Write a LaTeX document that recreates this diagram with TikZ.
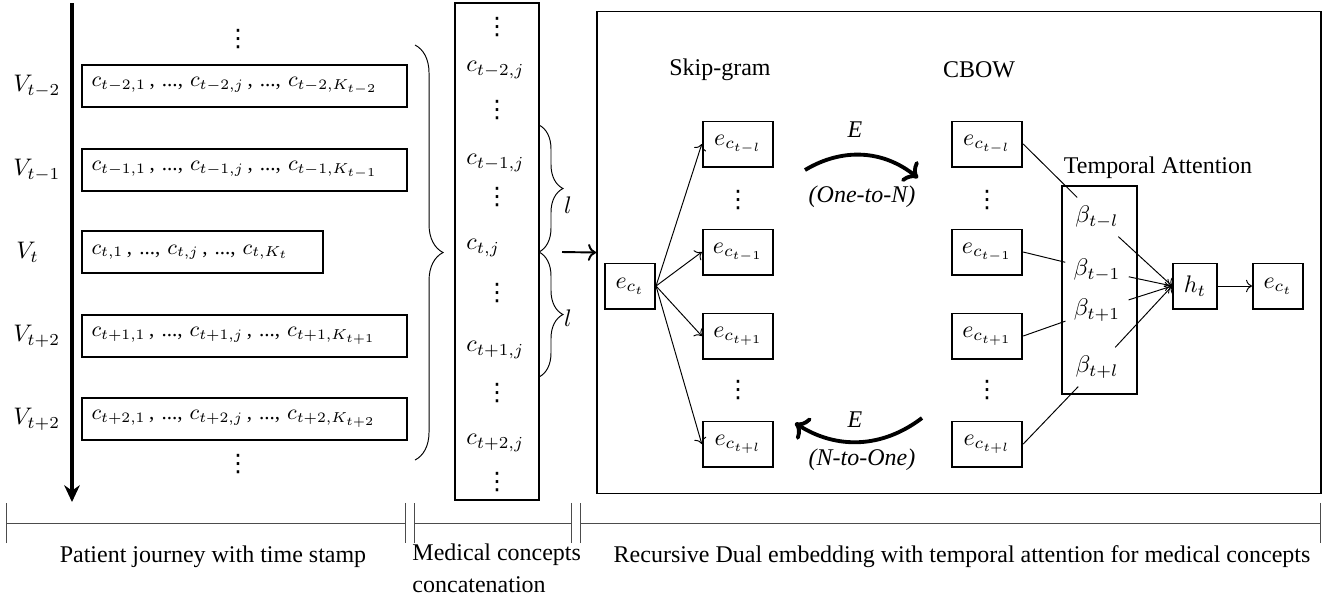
\documentclass[tikz,border=0pt]{standalone}
\usepackage[no-math]{fontspec}
\setmainfont{Liberation Serif}
\newfontfamily\symfont{DejaVu Sans}
\usepackage{amsmath}
\usetikzlibrary{positioning,decorations.pathreplacing,arrows.meta}
\newcommand{\vdt}{{\symfont ⋮}}
\tikzset{visit node/.style={draw,thick,anchor=west,minimum height=17.5pt,inner xsep=4pt,align=left,font=\fontsize{8.8}{10}\selectfont},
	emb node/.style={draw,thick,minimum height=18.8pt,minimum width=29.4pt,inner sep=2pt},
	dots node/.style={inner sep=0pt},
	big arc/.style={line width=1.6pt,->},
	span line/.style={black!70,{Bar[width=16.7pt]}-{Bar[width=16.7pt]}},
}

\begin{document}
\begin{tikzpicture}[x=0.417pt,y=-0.417pt]
	\useasboundingbox (0,0) rectangle (1340,601);
	
	% time axis and visits
	\coordinate (t0) at (72,3);
	\coordinate (t1) at (72,502);
	\draw[line width=1.6pt,-{Stealth[length=7pt,width=6.5pt]}] (t0) -- (t1);
	
	\node[anchor=west] (v1) at (5,86) {$V_{t-2}$};
	\node[anchor=west] (v2) at (5,170) {$V_{t-1}$};
	\node[anchor=west] (v3) at (8,252) {$V_t$};
	\node[anchor=west] (v4) at (5,336) {$V_{t+2}$};
	\node[anchor=west] (v5) at (5,419) {$V_{t+2}$};
	
	\node[dots node] (d0) at (238,39) {\vdt};
	\node[visit node,text width=127.5pt] (r1) at (81,86) {$c_{t-2,1}$\,, ..., $c_{t-2,j}$\,, ..., $c_{t-2,K_{t-2}}$};
	\node[visit node,text width=127.5pt] (r2) at (81,170) {$c_{t-1,1}$\,, ..., $c_{t-1,j}$\,, ..., $c_{t-1,K_{t-1}}$};
	\node[visit node,text width=92.5pt] (r3) at (81,252) {$c_{t,1}$\,, ..., $c_{t,j}$\,, ..., $c_{t,K_t}$};
	\node[visit node,text width=127.5pt] (r4) at (81,336) {$c_{t+1,1}$\,, ..., $c_{t+1,j}$\,, ..., $c_{t+1,K_{t+1}}$};
	\node[visit node,text width=127.5pt] (r5) at (81,419) {$c_{t+2,1}$\,, ..., $c_{t+2,j}$\,, ..., $c_{t+2,K_{t+2}}$};
	\node[dots node] (d1) at (238,464) {\vdt};
	
	\draw[decorate,decoration={brace,amplitude=11.7pt}] (415,45) -- (415,460);
	
	% concatenated concepts
	\node[draw,semithick,minimum width=35pt,minimum height=207.2pt] (conc) at (497,251.5) {};
	\node[dots node] (cd0) at (497,27) {\vdt};
	\node[anchor=west] (c1) at (458,70) {$c_{t-2,j}$};
	\node[dots node] (cd1) at (497,110) {\vdt};
	\node[anchor=west] (c2) at (458,163) {$c_{t-1,j}$};
	\node[dots node] (cd2) at (497,197) {\vdt};
	\node[anchor=west] (c3) at (458,248) {$c_{t,j}$};
	\node[dots node] (cd3) at (497,293) {\vdt};
	\node[anchor=west] (c4) at (458,350) {$c_{t+1,j}$};
	\node[dots node] (cd4) at (497,393) {\vdt};
	\node[anchor=west] (c5) at (458,443) {$c_{t+2,j}$};
	\node[dots node] (cd5) at (497,482) {\vdt};
	
	\draw[decorate,decoration={brace,amplitude=10pt}] (539,125) -- (539,252);
	\draw[decorate,decoration={brace,amplitude=10pt}] (539,252) -- (539,377);
	\node (l1) at (568,205) {$l$};
	\node (l2) at (568,318) {$l$};
	\coordinate (tip) at (562,252);
	
	% dual embedding
	\node[draw,thick,minimum width=301.9pt,minimum height=201pt] (frame) at (959,252.5) {};
	\draw[thick,->] (tip) -- (frame.west);
	
	\node (sk) at (720,70) {Skip-gram};
	\node (cbow) at (979,70) {CBOW};
	
	\node[emb node,minimum width=20.9pt] (in) at (630,286) {$e_{c_t}$};
	\node[emb node] (sg1) at (738,144) {$e_{c_{t-l}}$};
	\node[dots node] (sgd1) at (738,200) {\vdt};
	\node[emb node] (sg2) at (738,252) {$e_{c_{t-1}}$};
	\node[emb node] (sg3) at (738,336) {$e_{c_{t+1}}$};
	\node[dots node] (sgd2) at (738,390) {\vdt};
	\node[emb node] (sg4) at (738,444) {$e_{c_{t+l}}$};
	
	\node[emb node] (cb1) at (987,144) {$e_{c_{t-l}}$};
	\node[dots node] (cbd1) at (987,200) {\vdt};
	\node[emb node] (cb2) at (987,252) {$e_{c_{t-1}}$};
	\node[emb node] (cb3) at (987,336) {$e_{c_{t+1}}$};
	\node[dots node] (cbd2) at (987,390) {\vdt};
	\node[emb node] (cb4) at (987,444) {$e_{c_{t+l}}$};
	
	\foreach \n in {sg1,sg2,sg3,sg4}
	\draw[->] (in.east) -- (\n.west);
	
	\coordinate (a1) at (805,170);
	\coordinate (a2) at (918,178);
	\coordinate (a3) at (922,418);
	\coordinate (a4) at (795,423);
	\draw[big arc] (a1) to[bend left=35] (a2);
	\draw[big arc] (a3) to[bend left=35] (a4);
	\node (e1) at (855,130) {\textit{E}};
	\node (on) at (862,197) {\textit{(One-to-N)}};
	\node (e2) at (855,420) {\textit{E}};
	\node (no) at (862,460) {\textit{(N-to-One)}};
	
	% temporal attention
	\node[draw,thick,minimum width=31.3pt,minimum height=86.7pt] (att) at (1099.5,290) {};
	\node (attl) at (1158,168) {Temporal Attention};
	\node (b1) at (1097,217) {$\beta_{t-l}$};
	\node (b2) at (1097,270) {$\beta_{t-1}$};
	\node (b3) at (1097,310) {$\beta_{t+1}$};
	\node (b4) at (1097,367) {$\beta_{t+l}$};
	\node[emb node,minimum width=18.3pt] (ht) at (1195,286) {$h_t$};
	\node[emb node,minimum width=20.9pt] (out) at (1278,286) {$e_{c_t}$};
	
	\draw (cb1.east) -- (b1);
	\draw (cb2.east) -- (b2);
	\draw (cb3.east) -- (b3);
	\draw (cb4.east) -- (b4);
	\foreach \n in {b1,b2,b3,b4}
	\draw[->] (\n) -- (ht.west);
	\draw[->] (ht) -- (out);
	
	% spans below
	\coordinate (s0) at (6,523);
	\coordinate (s1) at (406,523);
	\coordinate (s2) at (414,523);
	\coordinate (s3) at (572,523);
	\coordinate (s4) at (580,523);
	\coordinate (s5) at (1321,523);
	\draw[span line] (s0) -- (s1);
	\draw[span line] (s2) -- (s3);
	\draw[span line] (s4) -- (s5);
	\node (lab1) at (213,557) {Patient journey with time stamp};
	\node[anchor=north west,align=left,inner sep=0pt] (lab2) at (412,543) {Medical concepts\\[1.3pt]concatenation};
	\node (lab3) at (962,557) {Recursive Dual embedding with temporal attention for medical concepts};
\end{tikzpicture}
\end{document}
